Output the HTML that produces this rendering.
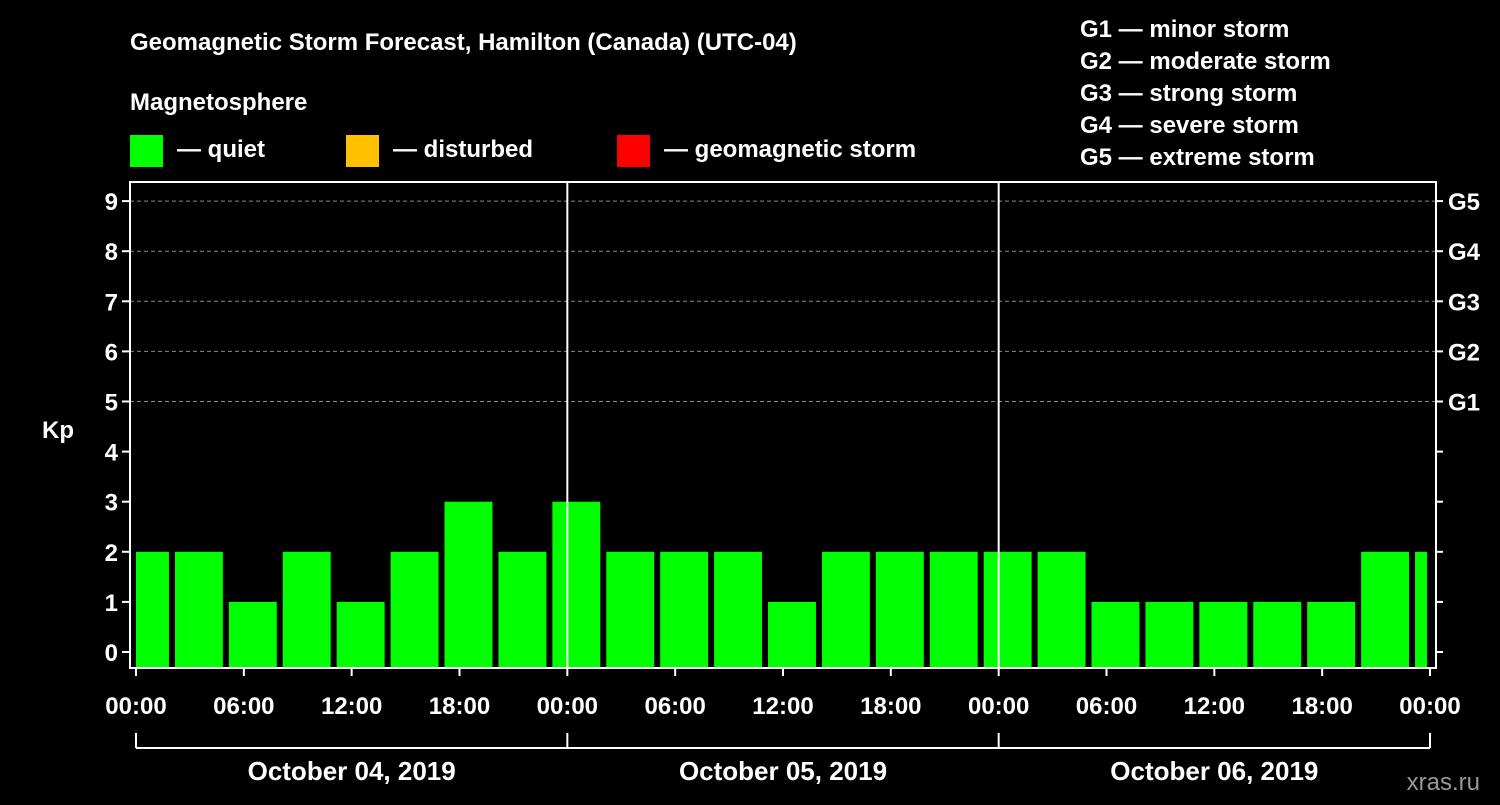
<!DOCTYPE html>
<html><head><meta charset="utf-8"><style>
body{margin:0;background:#000;width:1500px;height:800px;overflow:hidden}
svg text{font-family:"Liberation Sans",Arial,sans-serif;font-weight:bold;fill:#fff}
</style></head><body>
<svg id="c" width="1500" height="800" xmlns="http://www.w3.org/2000/svg">
<text x="130" y="50" font-size="24">Geomagnetic Storm Forecast, Hamilton (Canada) (UTC-04)</text>
<text x="130" y="110" font-size="24">Magnetosphere</text>
<g><rect x="130" y="135" width="33" height="32" fill="#00ff00"/><text x="177" y="157" font-size="24">— quiet</text></g>
<g><rect x="346" y="135" width="33" height="32" fill="#ffc000"/><text x="393" y="157" font-size="24">— disturbed</text></g>
<g><rect x="617" y="135" width="33" height="32" fill="#ff0000"/><text x="664" y="157" font-size="24">— geomagnetic storm</text></g>
<g font-size="24">
<text x="1080" y="37">G1 — minor storm</text>
<text x="1080" y="69">G2 — moderate storm</text>
<text x="1080" y="101">G3 — strong storm</text>
<text x="1080" y="133">G4 — severe storm</text>
<text x="1080" y="165">G5 — extreme storm</text>
</g>
<text x="42" y="438" font-size="24">Kp</text>
<text x="1480" y="790" font-size="24" text-anchor="end" fill="#888" style="fill:#999;font-weight:normal">xras.ru</text>
<g id="grid"></g><g id="bars"></g><g id="axes"></g>
</svg>
<script>
const kpValues=[2,2,1,2,1,2,3,2,3,2,2,2,1,2,2,2,2,2,1,1,1,1,1,2,2];
const barStartHours=[-1,2,5,8,11,14,17,20,23,26,29,32,35,38,41,44,47,50,53,56,59,62,65,68,71];
const xTickLabels=["00:00","06:00","12:00","18:00","00:00","06:00","12:00","18:00","00:00","06:00","12:00","18:00","00:00"];
const yTickLabels=["0","1","2","3","4","5","6","7","8","9"];
const gLabels=["G1","G2","G3","G4","G5"];
const dateLabels=["October 04, 2019","October 05, 2019","October 06, 2019"];
const NS="http://www.w3.org/2000/svg";
const X0=136,X1=1430,H=72,Y0=652,YU=50.1,L=130,R=1436,T=182,B=668;
const x=h=>X0+(X1-X0)*Math.max(0,Math.min(H,h))/H;
const y=v=>Y0-v*YU;
function mk(p,tag,a){const e=document.createElementNS(NS,tag);for(const k in a)e.setAttribute(k,a[k]);document.getElementById(p).appendChild(e);return e;}
for(let v=5;v<=9;v++){
const e=mk('grid','line',{x1:L,x2:R,y1:y(v),y2:y(v),stroke:'#888','stroke-dasharray':'4,3'});


}
kpValues.forEach((v,i)=>{
const s=barStartHours[i];const xa=x(s)+(s<0?0:3),xb=x(s+3)-3;
const c=v>=5?'#ff0000':v>=4?'#ffc000':'#00ff00';
const r=mk('bars','rect',{x:xa,y:y(v),width:xb-xa,height:B-y(v),fill:c});


});
mk('axes','rect',{x:L,y:T,width:R-L,height:B-T,fill:'none',stroke:'#fff','stroke-width':2});
[24,48].forEach(h=>{const e=mk('axes','line',{x1:x(h),x2:x(h),y1:T,y2:B,stroke:'#fff','stroke-width':2});

});
yTickLabels.forEach((t,v)=>{
mk('axes','line',{x1:L-8,x2:L,y1:y(v),y2:y(v),stroke:'#fff','stroke-width':2});
mk('axes','line',{x1:R,x2:R+7,y1:y(v),y2:y(v),stroke:'#fff','stroke-width':2});
const e=mk('axes','text',{x:L-12,y:y(v)+9,'font-size':24,'text-anchor':'end'});e.textContent=t;


});
gLabels.forEach((t,i)=>{const e=mk('axes','text',{x:1448,y:y(5+i)+9,'font-size':24});e.textContent=t;

});
xTickLabels.forEach((t,i)=>{const h=i*6;
mk('axes','line',{x1:x(h),x2:x(h),y1:B,y2:B+8,stroke:'#fff','stroke-width':2});
const e=mk('axes','text',{x:x(h),y:714,'font-size':24,'text-anchor':'middle'});e.textContent=t;

});
mk('axes','line',{x1:x(0),x2:x(72),y1:748,y2:748,stroke:'#fff','stroke-width':2});
[0,24,48,72].forEach(h=>mk('axes','line',{x1:x(h),x2:x(h),y1:733,y2:748,stroke:'#fff','stroke-width':2}));
dateLabels.forEach((t,i)=>{const e=mk('axes','text',{x:x(i*24+12),y:780,'font-size':26,'text-anchor':'middle'});e.textContent=t;

});
</script>
</body></html>
